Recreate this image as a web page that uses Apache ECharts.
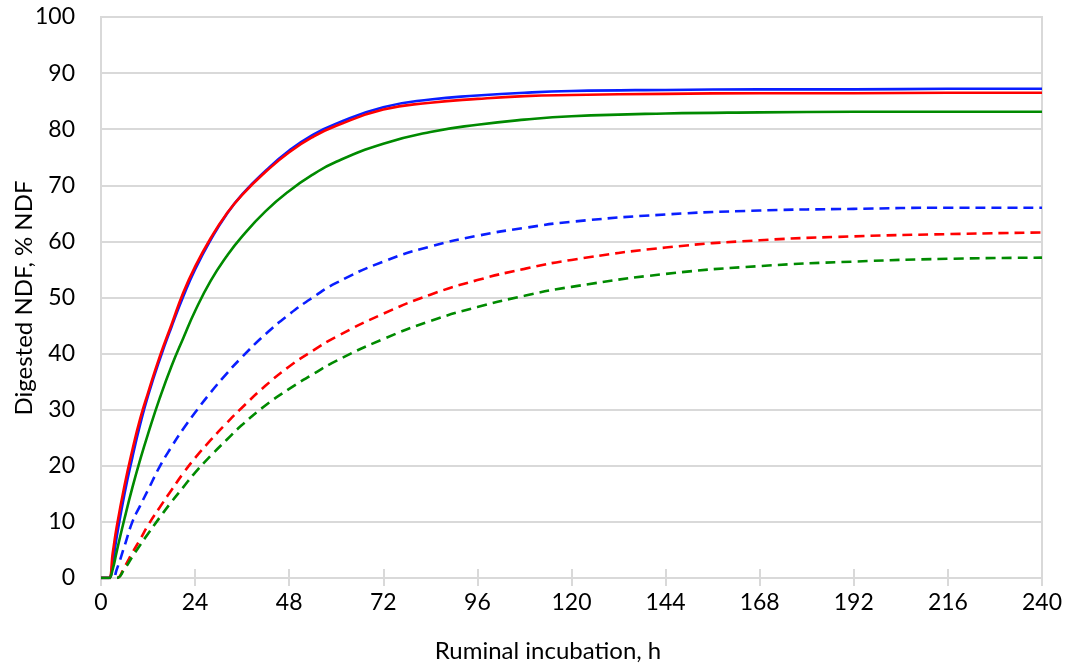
<!DOCTYPE html>
<html>
<head>
<meta charset="utf-8">
<script src="https://cdn.jsdelivr.net/npm/echarts@6/dist/echarts.min.js"></script>
<style>
html,body{margin:0;padding:0;background:#fff;}
#chart{width:1065px;height:666px;}
</style>
</head>
<body>
<div id="chart"></div>
<script>
var hours = [0,1,2,3,4,6,8,10,12,15,18,21,24,28,32,36,42,48,54,60,72,84,96,108,120,144,168,192,216,240];
var blueSolid = [0,0,0,2.8,7.3,15.0,21.5,27.4,32.5,39.0,44.8,50.2,55.0,60.3,64.8,68.4,72.6,76.2,79.0,81.0,83.9,85.3,86.0,86.5,86.8,87.0,87.1,87.1,87.2,87.2];
var redSolid = [0,0,0,4.5,9.1,16.5,22.8,28.4,33.0,39.5,45.2,50.9,55.5,60.6,64.9,68.3,72.4,75.9,78.6,80.6,83.5,84.7,85.4,85.9,86.1,86.3,86.4,86.4,86.5,86.5];
var greenSolid = [0,0,0,1.6,4.7,10.6,16.1,21.1,25.7,32.1,37.8,42.8,47.6,53.0,57.3,60.9,65.4,69.0,71.9,74.2,77.4,79.5,80.8,81.7,82.3,82.8,83.0,83.1,83.1,83.1];
var blueDash = [0,0,0,0,1.5,5.7,10.0,12.9,15.7,19.9,23.4,26.6,29.5,33.1,36.4,39.4,43.5,47.0,50.0,52.6,56.4,59.1,61.0,62.4,63.5,64.8,65.5,65.8,66.0,66.0];
var redDash = [0,0,0,0,0,2.0,4.5,6.9,9.4,12.6,15.7,18.7,21.4,24.6,27.6,30.4,34.3,37.7,40.5,43.0,47.1,50.5,53.1,55.1,56.7,58.9,60.2,60.9,61.3,61.6];
var greenDash = [0,0,0,0,0,1.6,3.8,5.9,7.9,10.8,13.6,16.2,18.8,21.8,24.6,27.3,30.8,33.7,36.3,38.7,42.6,45.8,48.3,50.3,51.9,54.2,55.6,56.4,56.9,57.1];
var xTicks = [0,24,48,72,96,120,144,168,192,216,240];
var yTicks = [0,10,20,30,40,50,60,70,80,90,100];
var xTitle = 'Ruminal incubation, h';
var yTitle = 'Digested NDF, % NDF';

function pairs(vals){ return hours.map(function(h,i){ return [h, vals[i]]; }); }

var FONT = 'Lato';
var GRID = '#d9d9d9';
function line(name, vals, color, dashed){
  return {
    name: name, type: 'line', data: pairs(vals), showSymbol: false, symbol: 'none',
    smooth: 0.5, silent: true, animation: false,
    lineStyle: { color: color, width: 2.6, type: dashed ? [10, 6] : 'solid' },
    xAxisIndex: 0, yAxisIndex: 0
  };
}

var chart = echarts.init(document.getElementById('chart'), null, {renderer: 'canvas'});
chart.setOption({
  backgroundColor: '#ffffff',
  animation: false,
  grid: { left: 101, right: 23, top: 17, bottom: 88, show: true, borderColor: GRID, borderWidth: 2, backgroundColor: 'transparent' },
  xAxis: [{
    type: 'value', min: 0, max: 240, interval: 24,
    axisLine: { show: true, lineStyle: { color: GRID, width: 2 } },
    axisTick: { show: true, inside: false, length: 8, lineStyle: { color: GRID, width: 2 } },
    axisLabel: { show: true, margin: 13, color: '#000', fontFamily: FONT, fontSize: 23,
      formatter: function(v){ return xTicks.indexOf(v) >= 0 ? String(v) : ''; } },
    splitLine: { show: false }
  },{
    type: 'value', min: 0, max: 240, interval: 24, position: 'bottom',
    axisLine: { show: false },
    axisTick: { show: true, inside: true, length: 9, lineStyle: { color: GRID, width: 2 } },
    axisLabel: { show: false },
    splitLine: { show: false }
  }],
  yAxis: [{
    type: 'value', min: 0, max: 100, interval: 10,
    axisLine: { show: true, lineStyle: { color: GRID, width: 2 } },
    axisTick: { show: false },
    axisLabel: { margin: 26, color: '#000', fontFamily: FONT, fontSize: 23,
      formatter: function(v){ return yTicks.indexOf(v) >= 0 ? String(v) : ''; } },
    splitLine: { show: true, lineStyle: { color: GRID, width: 2 } }
  }],
  series: [
    line('blue solid', blueSolid, '#0a1eff', false),
    line('red solid', redSolid, '#ff0000', false),
    line('green solid', greenSolid, '#008a00', false),
    line('blue dashed', blueDash, '#0a1eff', true),
    line('red dashed', redDash, '#ff0000', true),
    line('green dashed', greenDash, '#008a00', true)
  ],
  graphic: [
    { type: 'text', x: 548, y: 651, silent: true,
      style: { text: xTitle, fill: '#000', font: '24px ' + FONT, textAlign: 'center', textVerticalAlign: 'middle' } },
    { type: 'text', x: 24, y: 298, rotation: Math.PI / 2, silent: true,
      style: { text: yTitle, fill: '#000', font: '24px ' + FONT, textAlign: 'center', textVerticalAlign: 'middle' } }
  ]
});
</script>
</body>
</html>
